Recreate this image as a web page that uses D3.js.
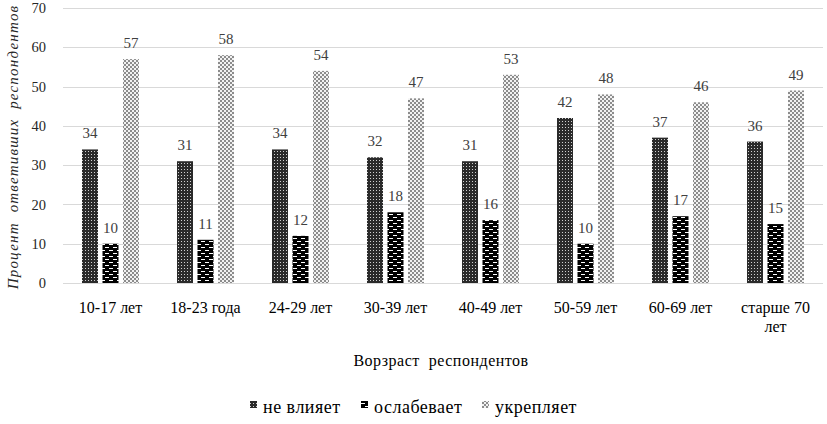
<!DOCTYPE html>
<html><head><meta charset="utf-8">
<script src="https://cdn.jsdelivr.net/npm/d3@7"></script>
<style>
body{margin:0;background:#fff;}
svg{display:block;}
</style></head>
<body>
<svg id="chart" width="827" height="424"></svg>
<script>
const categories = ["10-17 лет","18-23 года","24-29 лет","30-39 лет","40-49 лет","50-59 лет","60-69 лет","старше 70 лет"];
const seriesNames = ["не влияет","ослабевает","укрепляет"];
const neVliyaet = [34,31,34,32,31,42,37,36];
const oslabevaet = [10,11,12,18,16,10,17,15];
const ukreplyaet = [57,58,54,47,53,48,46,49];
const yTicks = [0,10,20,30,40,50,60,70];
const seriesValues = [neVliyaet, oslabevaet, ukreplyaet];

const FONT = "'Liberation Serif', serif";
const svg = d3.select("#chart");
const defs = svg.append("defs");

// pattern 1: dark with light dots
const p1 = defs.append("pattern").attr("id","p0").attr("patternUnits","userSpaceOnUse").attr("width",3).attr("height",3);
p1.append("rect").attr("width",3).attr("height",3).attr("fill","#2a2a2a");
p1.append("rect").attr("x",1).attr("y",1).attr("width",1).attr("height",1).attr("fill","#d0d0d0");
// pattern 2: black with white dashes (brick)
const p2 = defs.append("pattern").attr("id","p1").attr("patternUnits","userSpaceOnUse").attr("width",8).attr("height",6);
p2.append("rect").attr("width",8).attr("height",6).attr("fill","#000");
p2.append("rect").attr("x",1).attr("y",1).attr("width",4).attr("height",1).attr("fill","#fff");
p2.append("rect").attr("x",5).attr("y",4).attr("width",4).attr("height",1).attr("fill","#fff");
p2.append("rect").attr("x",-3).attr("y",4).attr("width",4).attr("height",1).attr("fill","#fff");
// pattern 3: light checker
const p3 = defs.append("pattern").attr("id","p2").attr("patternUnits","userSpaceOnUse").attr("width",4).attr("height",4);
p3.append("rect").attr("width",4).attr("height",4).attr("fill","#f2f2f2");
p3.append("rect").attr("x",0).attr("y",0).attr("width",2).attr("height",2).attr("fill","#8c8c8c");
p3.append("rect").attr("x",2).attr("y",2).attr("width",2).attr("height",2).attr("fill","#8c8c8c");

const x = d3.scaleBand().domain(categories).range([63,823]).paddingInner(0).paddingOuter(0);
const y = d3.scaleLinear().domain([0,70]).range([283,8]);

// gridlines
svg.append("g").selectAll("line").data(yTicks).join("line")
  .attr("x1",63).attr("x2",823)
  .attr("y1",d=>Math.round(y(d))+0.5).attr("y2",d=>Math.round(y(d))+0.5)
  .attr("stroke","#d9d9d9").attr("stroke-width",1);

// y axis labels
const yAxis = d3.axisLeft(y).tickValues(yTicks).tickSize(0).tickPadding(0);
const gy = svg.append("g").attr("transform","translate(46,0)").call(yAxis);
gy.attr("font-family", null).attr("font-size", null);
gy.select(".domain").remove();
gy.selectAll("text").attr("font-size",14.5).attr("fill","#262626").style("font-family",FONT);

const barW = 16, barStep = 20.5;
const xs = d3.scaleBand().domain(d3.range(3)).range([0, barW*3 + (barStep-barW)*2]).paddingInner((barStep-barW)/barStep);

seriesValues.forEach((vals, si) => {
  const g = svg.append("g");
  g.selectAll("rect").data(vals).join("rect")
    .attr("x",(d,i)=> x(categories[i]) + x.bandwidth()/2 - 28.5 + xs(si))
    .attr("width",xs.bandwidth())
    .attr("y",d=>y(d)).attr("height",d=>y(0)-y(d))
    .attr("fill",`url(#p${si})`);
  g.selectAll("text").data(vals).join("text")
    .attr("x",(d,i)=> x(categories[i]) + x.bandwidth()/2 - 28.5 + xs(si) + xs.bandwidth()/2)
    .attr("y",d=>y(d)-11)
    .attr("text-anchor","middle").attr("font-size",15).attr("fill","#404040")
    .style("font-family",FONT)
    .text(d=>d);
});

// x axis category labels
const gx = svg.append("g");
categories.forEach(c => {
  const cx = x(c) + x.bandwidth()/2;
  const t = gx.append("text").attr("x",cx).attr("y",313).attr("text-anchor","middle")
    .attr("font-size",16).attr("fill","#000").style("font-family",FONT);
  if (c === "старше 70 лет") {
    t.append("tspan").attr("x",cx).attr("y",313).text("старше 70");
    t.append("tspan").attr("x",cx).attr("y",332).text("лет");
  } else t.text(c);
});

// x title
svg.append("text").attr("x",441).attr("y",366).attr("text-anchor","middle")
  .attr("font-size",16).attr("fill","#000").attr("letter-spacing",0.5)
  .style("white-space","pre").style("font-family",FONT)
  .text("Ворзраст  респондентов");

// y title
svg.append("text").attr("transform","translate(18,147) rotate(-90)").attr("text-anchor","middle")
  .attr("font-size",15).attr("font-style","italic").attr("fill","#262626")
  .attr("letter-spacing",1.2).style("white-space","pre").style("font-family",FONT)
  .text("Процент  ответивших  респондентов");

// legend
const legendX = [250, 361, 482];
const lg = svg.append("g");
seriesNames.forEach((n,i) => {
  lg.append("rect").attr("x",legendX[i]).attr("y",401).attr("width",7).attr("height",7).attr("fill",`url(#p${i})`);
  lg.append("text").attr("x",legendX[i]+13).attr("y",413).attr("font-size",18).attr("fill","#000")
    .attr("letter-spacing",0.5).style("font-family",FONT).text(n);
});
</script>
</body></html>
